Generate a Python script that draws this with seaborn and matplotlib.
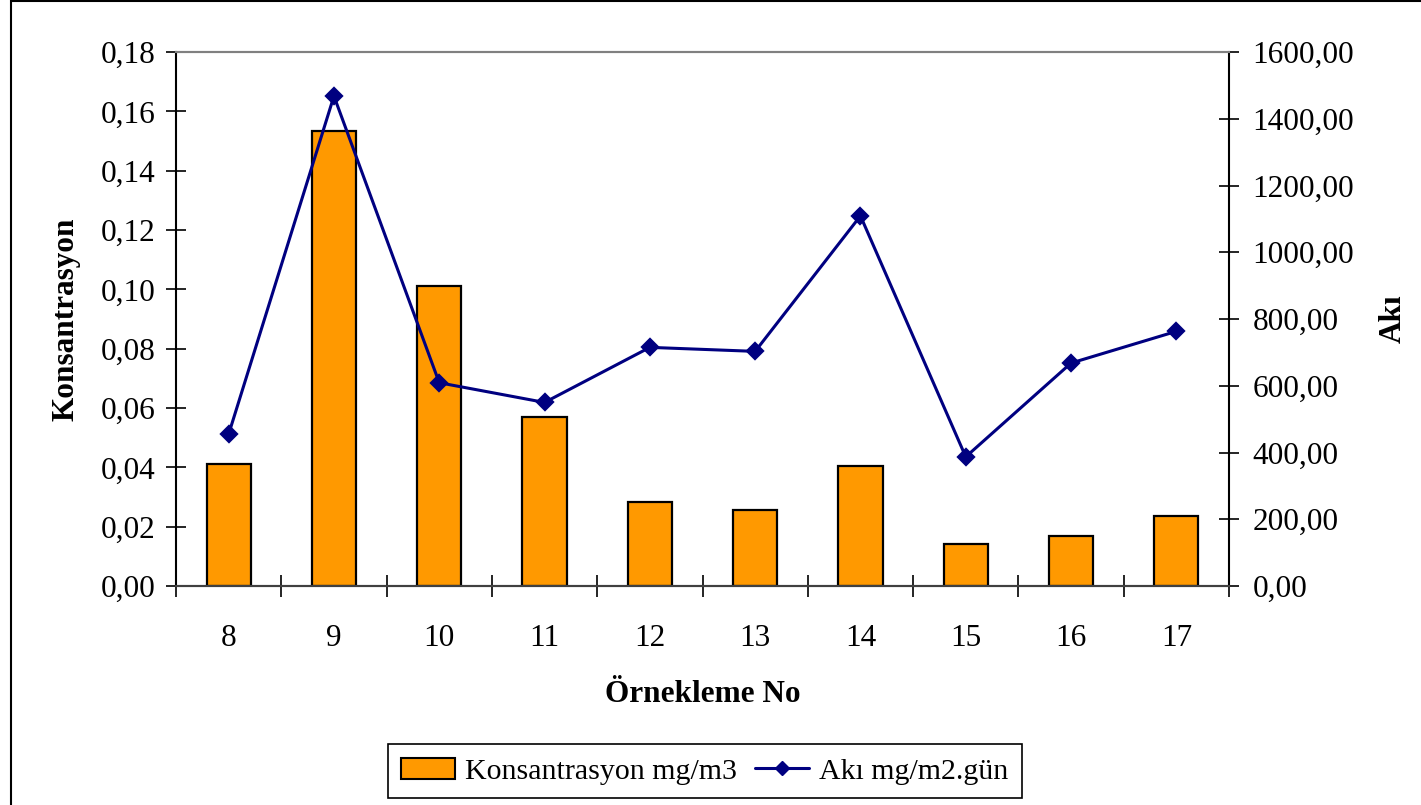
import numpy as np
import pandas as pd
import matplotlib
matplotlib.use("Agg")
import matplotlib.pyplot as plt
from matplotlib.patches import Patch, Rectangle
from matplotlib.lines import Line2D
from matplotlib.ticker import FixedLocator, FuncFormatter
import seaborn as sns

# Sampling numbers and measurements
ornekleme_no = ["8", "9", "10", "11", "12", "13", "14", "15", "16", "17"]
konsantrasyon = [0.041, 0.1534, 0.101, 0.0571, 0.0282, 0.0255, 0.0404, 0.0141, 0.0168, 0.0235]
aki = [455, 1468, 609, 550, 715, 703, 1109, 387, 668, 763]

left_ticks = [0.00, 0.02, 0.04, 0.06, 0.08, 0.10, 0.12, 0.14, 0.16, 0.18]
right_ticks = [0, 200, 400, 600, 800, 1000, 1200, 1400, 1600]

df = pd.DataFrame({"Örnekleme No": ornekleme_no,
                   "Konsantrasyon": konsantrasyon,
                   "Akı": aki})

sns.set_theme(style="white")
plt.rcParams["font.family"] = ["Liberation Serif", "DejaVu Serif"]
plt.rcParams.update({"text.color": "black", "axes.labelcolor": "black",
                     "xtick.color": "black", "ytick.color": "black"})

BAR_COLOR = "#FF9900"
LINE_COLOR = "#000080"
FS = 22.5

fig = plt.figure(figsize=(14.21, 8.05), dpi=100)
ax = fig.add_axes([176 / 1421, 1 - 586 / 805, (1229 - 176) / 1421, (586 - 52) / 805])

sns.barplot(data=df, x="Örnekleme No", y="Konsantrasyon", ax=ax,
            color=BAR_COLOR, saturation=1, width=0.42,
            edgecolor="black", linewidth=1.6, errorbar=None)

ax2 = ax.twinx()
sns.pointplot(data=df, x="Örnekleme No", y="Akı", ax=ax2,
              color=LINE_COLOR, markers="D", linestyles="-",
              errorbar=None, markersize=8, linewidth=2.2)

n = len(ornekleme_no)
for a in (ax, ax2):
    a.set_xlim(-0.5, n - 0.5)
    a.set_facecolor("none")

ax.set_ylim(0, 0.18)
ax2.set_ylim(0, 1600)

# left axis
ax.yaxis.set_major_locator(FixedLocator(left_ticks))
ax.yaxis.set_major_formatter(FuncFormatter(lambda v, p: f"{v:.2f}".replace(".", ",")))
ax.tick_params(axis="y", which="major", direction="inout", length=14, width=1.2,
               color="black", labelsize=FS, pad=8, left=True)

# right axis
ax2.yaxis.set_major_locator(FixedLocator(right_ticks))
ax2.yaxis.set_major_formatter(FuncFormatter(lambda v, p: f"{v:.2f}".replace(".", ",")))
ax2.tick_params(axis="y", which="major", direction="inout", length=14, width=1.2,
                color="black", labelsize=FS, pad=10, right=True)

# category axis: labels at centers, tick marks at boundaries
ax.set_xticks(np.arange(n))
ax.set_xticklabels(ornekleme_no)
ax.xaxis.set_minor_locator(FixedLocator(np.arange(n + 1) - 0.5))
ax.tick_params(axis="x", which="major", length=0, labelsize=FS, pad=27)
ax.tick_params(axis="x", which="minor", direction="inout", length=16, width=1.2,
               color="black", bottom=True)
ax2.tick_params(axis="x", which="both", length=0, labelbottom=False)

ax.set_xlabel("Örnekleme No", fontsize=22.5, fontweight="bold", labelpad=20)
ax.set_ylabel("Konsantrasyon", fontsize=22.5, fontweight="bold", labelpad=14)
ax2.set_ylabel("Akı", fontsize=22.5, fontweight="bold", labelpad=18)

for a in (ax, ax2):
    a.spines["top"].set_color("#808080")
    a.spines["top"].set_linewidth(1.5)
    a.spines["bottom"].set_color("#404040")
    a.spines["bottom"].set_linewidth(1.5)
    a.spines["left"].set_color("black")
    a.spines["left"].set_linewidth(1.5)
    a.spines["right"].set_color("black")
    a.spines["right"].set_linewidth(1.5)
ax.spines["right"].set_visible(False)
ax2.spines["left"].set_visible(False)

handles = [Patch(facecolor=BAR_COLOR, edgecolor="black", linewidth=1.5),
           Line2D([0], [0], color=LINE_COLOR, lw=2.2, marker="D", markersize=7)]
leg = fig.legend(handles, ["Konsantrasyon mg/m3", "Akı mg/m2.gün"],
                 loc="lower center", bbox_to_anchor=(705 / 1421, 7 / 805),
                 borderaxespad=0,
                 ncol=2, fontsize=21.5, frameon=True, fancybox=False,
                 edgecolor="black", framealpha=1, borderpad=0.45,
                 handlelength=1.8, handletextpad=0.35, columnspacing=0.6)
leg.get_frame().set_linewidth(1.2)

# outer chart frame
fig.patches.append(Rectangle((11 / 1421, -0.05), 1.1, 1.05 - 1.5 / 805 + 0.0005,
                             transform=fig.transFigure, fill=False,
                             edgecolor="black", linewidth=1.5))

fig.savefig("out.png", dpi=100)
